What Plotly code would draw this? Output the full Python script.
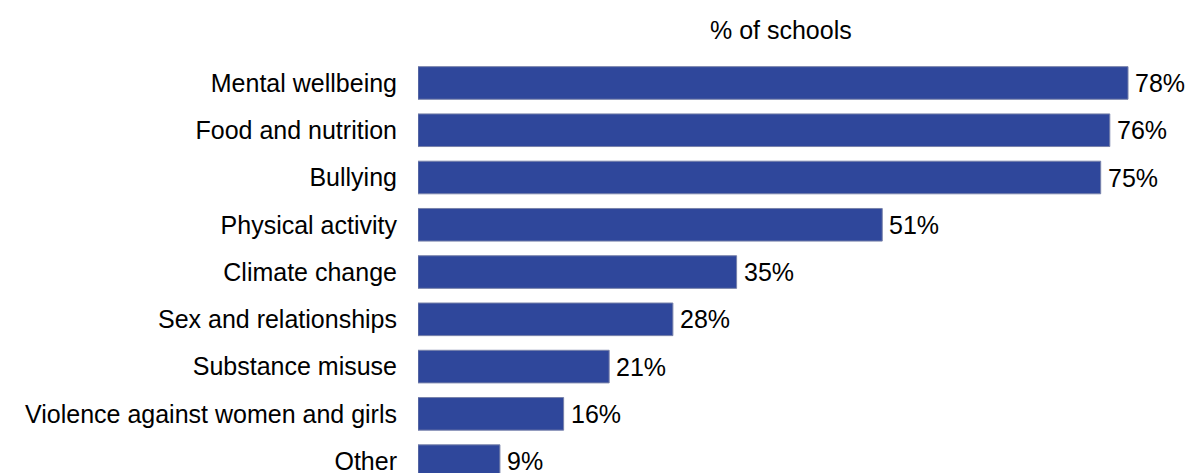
import plotly.graph_objects as go

topics = [
    "Mental wellbeing",
    "Food and nutrition",
    "Bullying",
    "Physical activity",
    "Climate change",
    "Sex and relationships",
    "Substance misuse",
    "Violence against women and girls",
    "Other",
]
share_pct = [78, 76, 75, 51, 35, 28, 21, 16, 9]

BAR_COLOR = "rgb(47,71,155)"
FONT = "Liberation Sans, Arial, sans-serif"

fig = go.Figure(
    go.Bar(
        x=share_pct,
        y=topics,
        orientation="h",
        marker=dict(color=BAR_COLOR, line=dict(color="rgb(120,130,170)", width=1)),
        width=0.69,
        hoverinfo="skip",
    )
)

# value labels just past the end of each bar
for topic, v in zip(topics, share_pct):
    fig.add_annotation(
        x=v, y=topic, xref="x", yref="y",
        text=f"{v}%",
        showarrow=False,
        xanchor="left", yanchor="middle",
        xshift=5,
        font=dict(family=FONT, size=25, color="black"),
    )

fig.add_annotation(
    text="% of schools",
    xref="x", yref="paper",
    x=39.9, y=1 - 30 / 475,
    showarrow=False,
    xanchor="center", yanchor="middle",
    font=dict(family=FONT, size=25, color="black"),
)

fig.update_layout(
    width=1189,
    height=475,
    margin=dict(l=418, r=0, t=0, b=0),
    paper_bgcolor="white",
    plot_bgcolor="white",
    showlegend=False,
    xaxis=dict(range=[0, 84.7], visible=False, fixedrange=True),
    yaxis=dict(
        categoryorder="array",
        categoryarray=topics,
        range=[8.251, -1.755],
        showgrid=False,
        zeroline=False,
        showline=False,
        ticks="",
        ticklabelstandoff=20,
        tickfont=dict(family=FONT, size=25, color="black"),
        fixedrange=True,
    ),
)

fig.write_html("out.html")
